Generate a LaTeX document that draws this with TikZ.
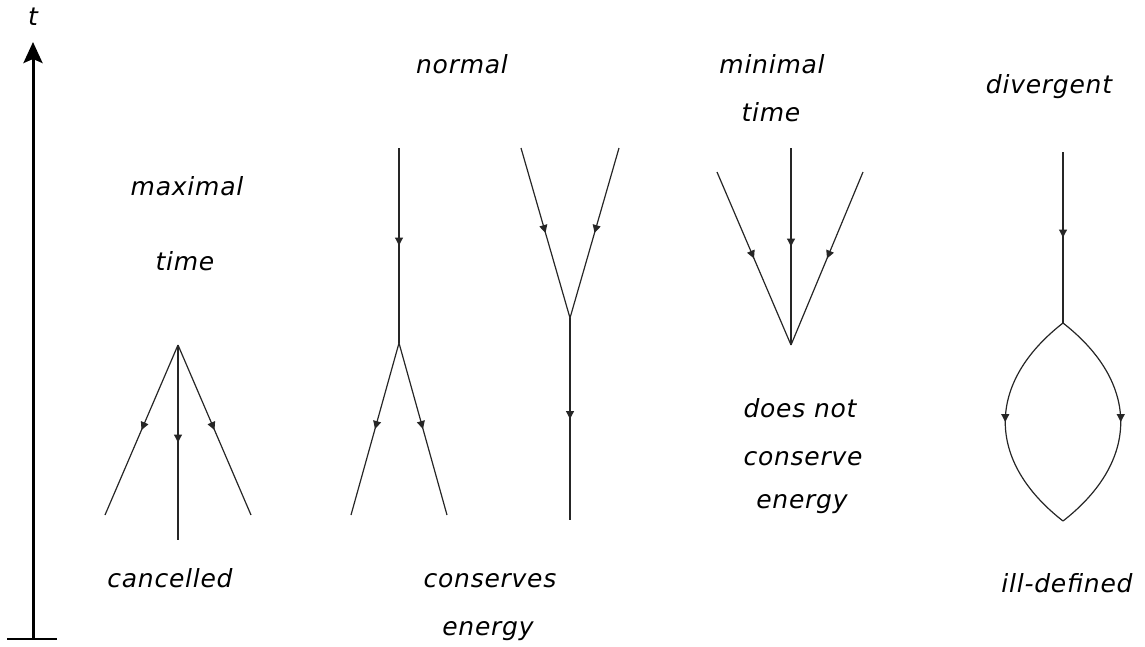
\documentclass[tikz,border=0pt]{standalone}
\usepackage{fontspec}
\newfontfamily\labfont{DejaVu Sans}[LetterSpace=3]
\usetikzlibrary{arrows.meta,decorations.markings}
\tikzset{
  lab/.style={font=\labfont\itshape\fontsize{25}{30}\selectfont, anchor=base, inner sep=0pt},
  prop/.style={line width=1.2pt, draw=black!85,
    postaction={decorate, decoration={markings,
      mark=at position #1 with {\arrow{Triangle[width=8pt,length=8pt]}}}}},
  prop/.default=0.5,
}
\begin{document}
\begin{tikzpicture}[x=1pt,y=-1pt]
\useasboundingbox (0,0) rectangle (1145,646);
% time axis
\coordinate (ab) at (33,639);
\coordinate (at) at (33,42);
\coordinate (tl) at (7,639);
\coordinate (tr) at (57,639);
\draw[line width=3pt, -{Stealth[length=21pt,width=19pt,inset=4pt]}] (ab) -- (at);
\draw[line width=1.8pt] (tl) -- (tr);
\node[lab] (t) at (33,25) {t};
% cancelled diagram (maximal time)
\coordinate (c0) at (178,345);
\coordinate (c1) at (105,515);
\coordinate (c2) at (178,540);
\coordinate (c3) at (251,515);
\draw[prop] (c0) -- (c1);
\draw[prop] (c0) -- (c2);
\draw[prop] (c0) -- (c3);
\node[lab] (maxa) at (187,195) {maximal};
\node[lab] (maxb) at (185,270) {time};
\node[lab] (canc) at (170,587) {cancelled};
% normal 1
\coordinate (n1t) at (399,148);
\coordinate (n1v) at (399,343);
\coordinate (n1l) at (351,515);
\coordinate (n1r) at (447,515);
\draw[prop] (n1t) -- (n1v);
\draw[prop] (n1v) -- (n1l);
\draw[prop] (n1v) -- (n1r);
% normal 2
\coordinate (n2l) at (521,148);
\coordinate (n2r) at (619,148);
\coordinate (n2v) at (570,318);
\coordinate (n2b) at (570,520);
\draw[prop] (n2l) -- (n2v);
\draw[prop] (n2r) -- (n2v);
\draw[prop] (n2v) -- (n2b);
\node[lab] (norm) at (462,73) {normal};
\node[lab] (consa) at (490,587) {conserves};
\node[lab] (consb) at (488,635) {energy};
% minimal time
\coordinate (mt) at (791,148);
\coordinate (ml) at (717,172);
\coordinate (mr) at (863,172);
\coordinate (mv) at (791,345);
\draw[prop] (mt) -- (mv);
\draw[prop] (ml) -- (mv);
\draw[prop] (mr) -- (mv);
\node[lab] (mina) at (772,73) {minimal};
\node[lab] (minb) at (771,121) {time};
\node[lab] (dna) at (800,417) {does not};
\node[lab] (dnb) at (803,465) {conserve};
\node[lab] (dnc) at (802,508) {energy};
% divergent
\coordinate (dt) at (1063,152);
\coordinate (dv) at (1063,323);
\coordinate (db) at (1063,521);
\draw[prop] (dt) -- (dv);
\draw[prop] (dv) .. controls (986,383) and (986,461) .. (db);
\draw[prop] (dv) .. controls (1140,383) and (1140,461) .. (db);
\node[lab] (div) at (1049,93) {divergent};
\node[lab] (ill) at (1067,592) {ill-defined};
\end{tikzpicture}
\end{document}
